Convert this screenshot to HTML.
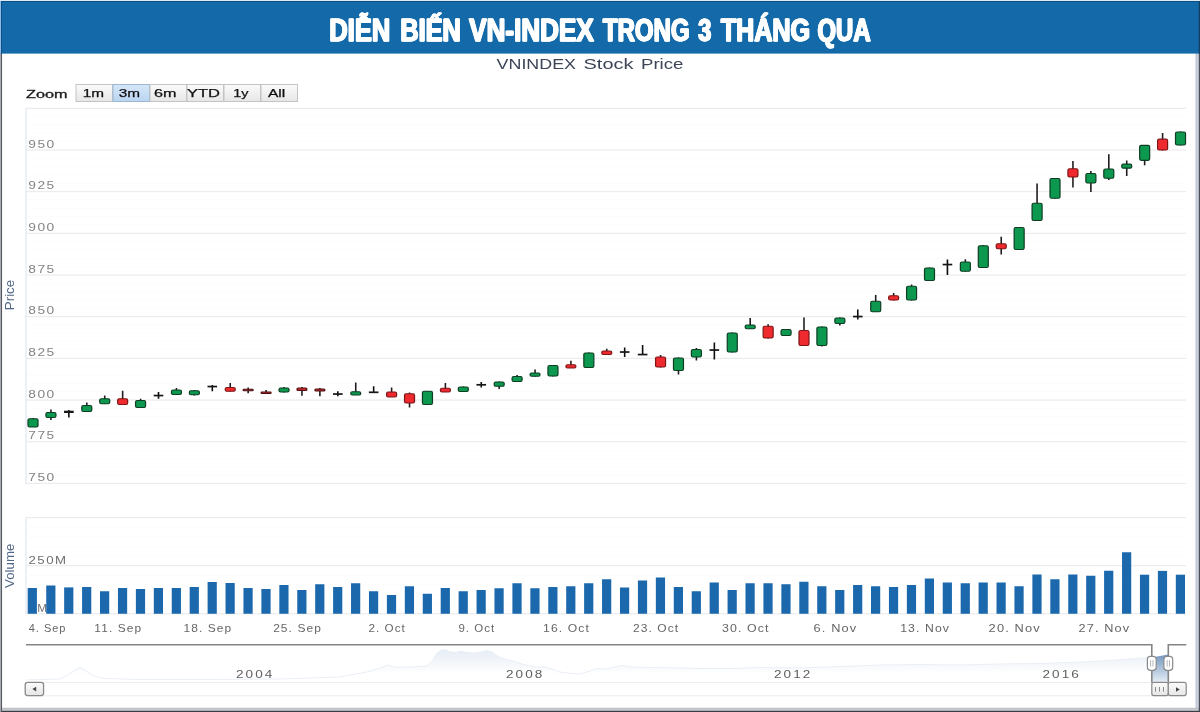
<!DOCTYPE html>
<html><head><meta charset="utf-8"><title>VN-Index</title>
<style>
html,body{margin:0;padding:0;background:#fff;}
body{width:1200px;height:712px;overflow:hidden;position:relative;font-family:"Liberation Sans",sans-serif;}
svg{position:absolute;left:0;top:0;display:block;}
text{font-family:"Liberation Sans",sans-serif;}
</style></head><body>
<svg width="1200" height="712" viewBox="0 0 1200 712">
<defs>
<linearGradient id="btn" x1="0" y1="0" x2="0" y2="1"><stop offset="0" stop-color="#fbfbfb"/><stop offset="1" stop-color="#e6e6e6"/></linearGradient>
<linearGradient id="btnsel" x1="0" y1="0" x2="0" y2="1"><stop offset="0" stop-color="#d6e7f8"/><stop offset="1" stop-color="#b9d5f1"/></linearGradient>
<linearGradient id="rb" x1="0" y1="0" x2="1" y2="0"><stop offset="0" stop-color="#b9c1d3"/><stop offset="1" stop-color="#d6dcea"/></linearGradient>
<linearGradient id="bb" x1="0" y1="0" x2="0" y2="1"><stop offset="0" stop-color="#b7bbc1"/><stop offset="1" stop-color="#d2d5da"/></linearGradient>
<linearGradient id="nav" x1="0" y1="0" x2="0" y2="1"><stop offset="0" stop-color="#e6edf5"/><stop offset="0.75" stop-color="#ffffff"/></linearGradient>
<filter id="soft" filterUnits="userSpaceOnUse" x="0" y="0" width="1200" height="712"><feGaussianBlur stdDeviation="0.6"/></filter>
<filter id="soft2" filterUnits="userSpaceOnUse" x="0" y="0" width="1200" height="60"><feGaussianBlur stdDeviation="0.3"/></filter>
<linearGradient id="navsel" x1="0" y1="0" x2="0" y2="1"><stop offset="0" stop-color="#5f88b5"/><stop offset="1" stop-color="#e4ecf5"/></linearGradient>
</defs>

<rect x="0" y="0" width="1200" height="712" fill="#ffffff"/>
<rect x="1195.5" y="53" width="3.2" height="657" fill="url(#rb)"/>
<rect x="2" y="707.8" width="1196.7" height="2.9" fill="url(#bb)"/>
<rect x="1198.7" y="0" width="1.3" height="712" fill="#4a4e58"/>
<rect x="0" y="710.7" width="1200" height="1.3" fill="#3a3d44"/>
<rect x="0" y="53" width="0.9" height="659" fill="#a8abb0"/>
<rect x="0.9" y="53" width="1.15" height="659" fill="#555a60"/>
<rect x="0" y="0" width="1200" height="53.6" fill="#146aa9"/>
<rect x="0" y="0" width="1200" height="1" fill="#dbe9f5"/>
<rect x="0" y="1" width="1200" height="1" fill="#0e4f84"/>
<rect x="0" y="1" width="1" height="52.6" fill="#8cbde6"/>
<rect x="1" y="1" width="1" height="52.6" fill="#0e4f84"/>
<rect x="1198.7" y="1" width="1.3" height="52.6" fill="#123f63"/>
<g filter="url(#soft2)">
<text x="328.94" y="40.75" font-size="30.6" font-weight="bold" fill="#ffffff" stroke="#ffffff" stroke-width="0.9" stroke-linejoin="round" textLength="60.83" lengthAdjust="spacingAndGlyphs">DIỄN</text>
<text x="329.34" y="40.75" font-size="30.6" font-weight="bold" fill="#ffffff" stroke="#ffffff" stroke-width="0.9" stroke-linejoin="round" textLength="60.83" lengthAdjust="spacingAndGlyphs">DIỄN</text>
<text x="329.74" y="40.75" font-size="30.6" font-weight="bold" fill="#ffffff" stroke="#ffffff" stroke-width="0.9" stroke-linejoin="round" textLength="60.83" lengthAdjust="spacingAndGlyphs">DIỄN</text>
<text x="399.95" y="40.75" font-size="30.6" font-weight="bold" fill="#ffffff" stroke="#ffffff" stroke-width="0.9" stroke-linejoin="round" textLength="60.46" lengthAdjust="spacingAndGlyphs">BIẾN</text>
<text x="400.35" y="40.75" font-size="30.6" font-weight="bold" fill="#ffffff" stroke="#ffffff" stroke-width="0.9" stroke-linejoin="round" textLength="60.46" lengthAdjust="spacingAndGlyphs">BIẾN</text>
<text x="400.75" y="40.75" font-size="30.6" font-weight="bold" fill="#ffffff" stroke="#ffffff" stroke-width="0.9" stroke-linejoin="round" textLength="60.46" lengthAdjust="spacingAndGlyphs">BIẾN</text>
<text x="468.74" y="40.75" font-size="30.6" font-weight="bold" fill="#ffffff" stroke="#ffffff" stroke-width="0.9" stroke-linejoin="round" textLength="124.62" lengthAdjust="spacingAndGlyphs">VN-INDEX</text>
<text x="469.14" y="40.75" font-size="30.6" font-weight="bold" fill="#ffffff" stroke="#ffffff" stroke-width="0.9" stroke-linejoin="round" textLength="124.62" lengthAdjust="spacingAndGlyphs">VN-INDEX</text>
<text x="469.54" y="40.75" font-size="30.6" font-weight="bold" fill="#ffffff" stroke="#ffffff" stroke-width="0.9" stroke-linejoin="round" textLength="124.62" lengthAdjust="spacingAndGlyphs">VN-INDEX</text>
<text x="602.55" y="40.75" font-size="30.6" font-weight="bold" fill="#ffffff" stroke="#ffffff" stroke-width="0.9" stroke-linejoin="round" textLength="86.62" lengthAdjust="spacingAndGlyphs">TRONG</text>
<text x="602.95" y="40.75" font-size="30.6" font-weight="bold" fill="#ffffff" stroke="#ffffff" stroke-width="0.9" stroke-linejoin="round" textLength="86.62" lengthAdjust="spacingAndGlyphs">TRONG</text>
<text x="603.35" y="40.75" font-size="30.6" font-weight="bold" fill="#ffffff" stroke="#ffffff" stroke-width="0.9" stroke-linejoin="round" textLength="86.62" lengthAdjust="spacingAndGlyphs">TRONG</text>
<text x="697.85" y="40.75" font-size="30.6" font-weight="bold" fill="#ffffff" stroke="#ffffff" stroke-width="0.9" stroke-linejoin="round" textLength="13.01" lengthAdjust="spacingAndGlyphs">3</text>
<text x="698.25" y="40.75" font-size="30.6" font-weight="bold" fill="#ffffff" stroke="#ffffff" stroke-width="0.9" stroke-linejoin="round" textLength="13.01" lengthAdjust="spacingAndGlyphs">3</text>
<text x="698.65" y="40.75" font-size="30.6" font-weight="bold" fill="#ffffff" stroke="#ffffff" stroke-width="0.9" stroke-linejoin="round" textLength="13.01" lengthAdjust="spacingAndGlyphs">3</text>
<text x="720.50" y="40.75" font-size="30.6" font-weight="bold" fill="#ffffff" stroke="#ffffff" stroke-width="0.9" stroke-linejoin="round" textLength="89.08" lengthAdjust="spacingAndGlyphs">THÁNG</text>
<text x="720.90" y="40.75" font-size="30.6" font-weight="bold" fill="#ffffff" stroke="#ffffff" stroke-width="0.9" stroke-linejoin="round" textLength="89.08" lengthAdjust="spacingAndGlyphs">THÁNG</text>
<text x="721.30" y="40.75" font-size="30.6" font-weight="bold" fill="#ffffff" stroke="#ffffff" stroke-width="0.9" stroke-linejoin="round" textLength="89.08" lengthAdjust="spacingAndGlyphs">THÁNG</text>
<text x="816.90" y="40.75" font-size="30.6" font-weight="bold" fill="#ffffff" stroke="#ffffff" stroke-width="0.9" stroke-linejoin="round" textLength="53.35" lengthAdjust="spacingAndGlyphs">QUA</text>
<text x="817.30" y="40.75" font-size="30.6" font-weight="bold" fill="#ffffff" stroke="#ffffff" stroke-width="0.9" stroke-linejoin="round" textLength="53.35" lengthAdjust="spacingAndGlyphs">QUA</text>
<text x="817.70" y="40.75" font-size="30.6" font-weight="bold" fill="#ffffff" stroke="#ffffff" stroke-width="0.9" stroke-linejoin="round" textLength="53.35" lengthAdjust="spacingAndGlyphs">QUA</text>
</g>
<g filter="url(#soft)">
<text x="496.6" y="69.3" font-size="14.6" fill="#3b4457" textLength="79.4" lengthAdjust="spacingAndGlyphs">VNINDEX</text>
<text x="583.6" y="69.3" font-size="14.6" fill="#3b4457" textLength="49.8" lengthAdjust="spacingAndGlyphs">Stock</text>
<text x="641" y="69.3" font-size="14.6" fill="#3b4457" textLength="42.4" lengthAdjust="spacingAndGlyphs">Price</text>
<text x="26" y="98" font-size="11.6" fill="#1a1a1a" stroke="#1a1a1a" stroke-width="0.3" textLength="41.5" lengthAdjust="spacingAndGlyphs">Zoom</text>
<rect x="76.0" y="84.5" width="36.5" height="17" fill="url(#btn)" stroke="#c4c4c4" stroke-width="1"/>
<text x="82.70" y="96.7" font-size="11.4" fill="#111111" stroke="#111111" stroke-width="0.25" textLength="21.3" lengthAdjust="spacingAndGlyphs">1m</text>
<rect x="113.0" y="84.5" width="36.5" height="17" fill="url(#btnsel)" stroke="#9db7d3" stroke-width="1"/>
<text x="118.70" y="96.7" font-size="11.4" fill="#111111" stroke="#111111" stroke-width="0.25" textLength="21.3" lengthAdjust="spacingAndGlyphs">3m</text>
<rect x="150.0" y="84.5" width="36.5" height="17" fill="url(#btn)" stroke="#c4c4c4" stroke-width="1"/>
<text x="154.00" y="96.7" font-size="11.4" fill="#111111" stroke="#111111" stroke-width="0.25" textLength="22.5" lengthAdjust="spacingAndGlyphs">6m</text>
<rect x="187.0" y="84.5" width="36.5" height="17" fill="url(#btn)" stroke="#c4c4c4" stroke-width="1"/>
<text x="187.00" y="96.7" font-size="11.4" fill="#111111" stroke="#111111" stroke-width="0.25" textLength="33" lengthAdjust="spacingAndGlyphs">YTD</text>
<rect x="224.0" y="84.5" width="36.5" height="17" fill="url(#btn)" stroke="#c4c4c4" stroke-width="1"/>
<text x="233.30" y="96.7" font-size="11.4" fill="#111111" stroke="#111111" stroke-width="0.25" textLength="15.2" lengthAdjust="spacingAndGlyphs">1y</text>
<rect x="261.0" y="84.5" width="36.5" height="17" fill="url(#btn)" stroke="#c4c4c4" stroke-width="1"/>
<text x="268.00" y="96.7" font-size="11.4" fill="#111111" stroke="#111111" stroke-width="0.25" textLength="17.3" lengthAdjust="spacingAndGlyphs">All</text>
<g>
<rect x="26" y="482.85" width="1160" height="1.1" fill="#eaeaea"/>
<rect x="26" y="474.51" width="1160" height="1" fill="#fcfcfc"/>
<rect x="26" y="466.18" width="1160" height="1" fill="#fcfcfc"/>
<rect x="26" y="457.85" width="1160" height="1" fill="#fcfcfc"/>
<rect x="26" y="449.51" width="1160" height="1" fill="#fcfcfc"/>
<rect x="26" y="441.18" width="1160" height="1.1" fill="#eaeaea"/>
<rect x="26" y="432.84" width="1160" height="1" fill="#fcfcfc"/>
<rect x="26" y="424.50" width="1160" height="1" fill="#fcfcfc"/>
<rect x="26" y="416.17" width="1160" height="1" fill="#fcfcfc"/>
<rect x="26" y="407.83" width="1160" height="1" fill="#fcfcfc"/>
<rect x="26" y="399.50" width="1160" height="1.1" fill="#eaeaea"/>
<rect x="26" y="391.17" width="1160" height="1" fill="#fcfcfc"/>
<rect x="26" y="382.83" width="1160" height="1" fill="#fcfcfc"/>
<rect x="26" y="374.50" width="1160" height="1" fill="#fcfcfc"/>
<rect x="26" y="366.16" width="1160" height="1" fill="#fcfcfc"/>
<rect x="26" y="357.82" width="1160" height="1.1" fill="#eaeaea"/>
<rect x="26" y="349.49" width="1160" height="1" fill="#fcfcfc"/>
<rect x="26" y="341.15" width="1160" height="1" fill="#fcfcfc"/>
<rect x="26" y="332.82" width="1160" height="1" fill="#fcfcfc"/>
<rect x="26" y="324.49" width="1160" height="1" fill="#fcfcfc"/>
<rect x="26" y="316.15" width="1160" height="1.1" fill="#eaeaea"/>
<rect x="26" y="307.81" width="1160" height="1" fill="#fcfcfc"/>
<rect x="26" y="299.48" width="1160" height="1" fill="#fcfcfc"/>
<rect x="26" y="291.14" width="1160" height="1" fill="#fcfcfc"/>
<rect x="26" y="282.81" width="1160" height="1" fill="#fcfcfc"/>
<rect x="26" y="274.48" width="1160" height="1.1" fill="#eaeaea"/>
<rect x="26" y="266.14" width="1160" height="1" fill="#fcfcfc"/>
<rect x="26" y="257.81" width="1160" height="1" fill="#fcfcfc"/>
<rect x="26" y="249.47" width="1160" height="1" fill="#fcfcfc"/>
<rect x="26" y="241.13" width="1160" height="1" fill="#fcfcfc"/>
<rect x="26" y="232.80" width="1160" height="1.1" fill="#eaeaea"/>
<rect x="26" y="224.47" width="1160" height="1" fill="#fcfcfc"/>
<rect x="26" y="216.13" width="1160" height="1" fill="#fcfcfc"/>
<rect x="26" y="207.79" width="1160" height="1" fill="#fcfcfc"/>
<rect x="26" y="199.46" width="1160" height="1" fill="#fcfcfc"/>
<rect x="26" y="191.12" width="1160" height="1.1" fill="#eaeaea"/>
<rect x="26" y="182.79" width="1160" height="1" fill="#fcfcfc"/>
<rect x="26" y="174.45" width="1160" height="1" fill="#fcfcfc"/>
<rect x="26" y="166.12" width="1160" height="1" fill="#fcfcfc"/>
<rect x="26" y="157.78" width="1160" height="1" fill="#fcfcfc"/>
<rect x="26" y="149.45" width="1160" height="1.1" fill="#eaeaea"/>
<rect x="26" y="141.12" width="1160" height="1" fill="#fcfcfc"/>
<rect x="26" y="132.78" width="1160" height="1" fill="#fcfcfc"/>
<rect x="26" y="124.44" width="1160" height="1" fill="#fcfcfc"/>
<rect x="26" y="116.11" width="1160" height="1" fill="#fcfcfc"/>
<rect x="26" y="107.77" width="1160" height="1.1" fill="#eaeaea"/>
</g>
<rect x="25.5" y="108" width="1.2" height="376" fill="#dfe8f2"/>
<rect x="25.5" y="517" width="1.2" height="97" fill="#dfe8f2"/>
<text x="28.2" y="147.75" font-size="11.5" letter-spacing="1.3" fill="#848484" textLength="27.6" lengthAdjust="spacingAndGlyphs">950</text>
<text x="28.2" y="189.43" font-size="11.5" letter-spacing="1.3" fill="#848484" textLength="27.6" lengthAdjust="spacingAndGlyphs">925</text>
<text x="28.2" y="231.10" font-size="11.5" letter-spacing="1.3" fill="#848484" textLength="27.6" lengthAdjust="spacingAndGlyphs">900</text>
<text x="28.2" y="272.78" font-size="11.5" letter-spacing="1.3" fill="#848484" textLength="27.6" lengthAdjust="spacingAndGlyphs">875</text>
<text x="28.2" y="314.45" font-size="11.5" letter-spacing="1.3" fill="#848484" textLength="27.6" lengthAdjust="spacingAndGlyphs">850</text>
<text x="28.2" y="356.12" font-size="11.5" letter-spacing="1.3" fill="#848484" textLength="27.6" lengthAdjust="spacingAndGlyphs">825</text>
<text x="28.2" y="397.80" font-size="11.5" letter-spacing="1.3" fill="#848484" textLength="27.6" lengthAdjust="spacingAndGlyphs">800</text>
<text x="28.2" y="439.48" font-size="11.5" letter-spacing="1.3" fill="#848484" textLength="27.6" lengthAdjust="spacingAndGlyphs">775</text>
<text x="28.2" y="481.15" font-size="11.5" letter-spacing="1.3" fill="#848484" textLength="27.6" lengthAdjust="spacingAndGlyphs">750</text>
<text transform="translate(14.2,310.2) rotate(-90)" font-size="13.2" fill="#4f6687" textLength="30.4" lengthAdjust="spacingAndGlyphs">Price</text>
<text transform="translate(14.1,588) rotate(-90)" font-size="13.4" fill="#4f6687" textLength="44.4" lengthAdjust="spacingAndGlyphs">Volume</text>
<g>
<rect x="26" y="613.25" width="1160" height="1.1" fill="#eaeaea"/>
<rect x="26" y="603.63" width="1160" height="1" fill="#fcfcfc"/>
<rect x="26" y="594.01" width="1160" height="1" fill="#fcfcfc"/>
<rect x="26" y="584.39" width="1160" height="1" fill="#fcfcfc"/>
<rect x="26" y="574.77" width="1160" height="1" fill="#fcfcfc"/>
<rect x="26" y="565.15" width="1160" height="1.1" fill="#eaeaea"/>
<rect x="26" y="555.53" width="1160" height="1" fill="#fcfcfc"/>
<rect x="26" y="545.91" width="1160" height="1" fill="#fcfcfc"/>
<rect x="26" y="536.29" width="1160" height="1" fill="#fcfcfc"/>
<rect x="26" y="526.67" width="1160" height="1" fill="#fcfcfc"/>
<rect x="26" y="517.05" width="1160" height="1.1" fill="#eaeaea"/>
</g>
<text x="28.5" y="563.8" font-size="10.8" letter-spacing="1.2" fill="#707070" textLength="39" lengthAdjust="spacingAndGlyphs">250M</text>
<text x="29.3" y="611.8" font-size="10.8" letter-spacing="1.2" fill="#707070" textLength="19" lengthAdjust="spacingAndGlyphs">0M</text>
<rect x="27.70" y="588.00" width="9.2" height="25.75" fill="#1a68ad"/>
<rect x="46.23" y="585.50" width="9.2" height="28.25" fill="#1a68ad"/>
<rect x="64.16" y="587.40" width="9.2" height="26.35" fill="#1a68ad"/>
<rect x="82.09" y="587.00" width="9.2" height="26.75" fill="#1a68ad"/>
<rect x="100.02" y="591.25" width="9.2" height="22.50" fill="#1a68ad"/>
<rect x="117.95" y="588.00" width="9.2" height="25.75" fill="#1a68ad"/>
<rect x="135.88" y="589.00" width="9.2" height="24.75" fill="#1a68ad"/>
<rect x="153.81" y="588.00" width="9.2" height="25.75" fill="#1a68ad"/>
<rect x="171.74" y="588.00" width="9.2" height="25.75" fill="#1a68ad"/>
<rect x="189.67" y="587.00" width="9.2" height="26.75" fill="#1a68ad"/>
<rect x="207.60" y="582.00" width="9.2" height="31.75" fill="#1a68ad"/>
<rect x="225.53" y="583.00" width="9.2" height="30.75" fill="#1a68ad"/>
<rect x="243.46" y="588.00" width="9.2" height="25.75" fill="#1a68ad"/>
<rect x="261.39" y="589.00" width="9.2" height="24.75" fill="#1a68ad"/>
<rect x="279.32" y="585.00" width="9.2" height="28.75" fill="#1a68ad"/>
<rect x="297.25" y="590.00" width="9.2" height="23.75" fill="#1a68ad"/>
<rect x="315.18" y="584.25" width="9.2" height="29.50" fill="#1a68ad"/>
<rect x="333.11" y="587.00" width="9.2" height="26.75" fill="#1a68ad"/>
<rect x="351.04" y="583.25" width="9.2" height="30.50" fill="#1a68ad"/>
<rect x="368.97" y="591.25" width="9.2" height="22.50" fill="#1a68ad"/>
<rect x="386.90" y="595.00" width="9.2" height="18.75" fill="#1a68ad"/>
<rect x="404.83" y="586.25" width="9.2" height="27.50" fill="#1a68ad"/>
<rect x="422.76" y="593.75" width="9.2" height="20.00" fill="#1a68ad"/>
<rect x="440.69" y="588.00" width="9.2" height="25.75" fill="#1a68ad"/>
<rect x="458.62" y="591.25" width="9.2" height="22.50" fill="#1a68ad"/>
<rect x="476.55" y="590.00" width="9.2" height="23.75" fill="#1a68ad"/>
<rect x="494.48" y="588.25" width="9.2" height="25.50" fill="#1a68ad"/>
<rect x="512.41" y="583.25" width="9.2" height="30.50" fill="#1a68ad"/>
<rect x="530.34" y="588.25" width="9.2" height="25.50" fill="#1a68ad"/>
<rect x="548.27" y="587.00" width="9.2" height="26.75" fill="#1a68ad"/>
<rect x="566.20" y="586.25" width="9.2" height="27.50" fill="#1a68ad"/>
<rect x="584.13" y="583.25" width="9.2" height="30.50" fill="#1a68ad"/>
<rect x="602.06" y="579.25" width="9.2" height="34.50" fill="#1a68ad"/>
<rect x="619.99" y="587.50" width="9.2" height="26.25" fill="#1a68ad"/>
<rect x="637.92" y="580.50" width="9.2" height="33.25" fill="#1a68ad"/>
<rect x="655.85" y="577.50" width="9.2" height="36.25" fill="#1a68ad"/>
<rect x="673.78" y="587.00" width="9.2" height="26.75" fill="#1a68ad"/>
<rect x="691.71" y="591.25" width="9.2" height="22.50" fill="#1a68ad"/>
<rect x="709.64" y="582.50" width="9.2" height="31.25" fill="#1a68ad"/>
<rect x="727.57" y="590.00" width="9.2" height="23.75" fill="#1a68ad"/>
<rect x="745.50" y="583.25" width="9.2" height="30.50" fill="#1a68ad"/>
<rect x="763.43" y="583.25" width="9.2" height="30.50" fill="#1a68ad"/>
<rect x="781.36" y="584.25" width="9.2" height="29.50" fill="#1a68ad"/>
<rect x="799.29" y="581.75" width="9.2" height="32.00" fill="#1a68ad"/>
<rect x="817.22" y="586.25" width="9.2" height="27.50" fill="#1a68ad"/>
<rect x="835.15" y="590.00" width="9.2" height="23.75" fill="#1a68ad"/>
<rect x="853.08" y="585.00" width="9.2" height="28.75" fill="#1a68ad"/>
<rect x="871.01" y="586.25" width="9.2" height="27.50" fill="#1a68ad"/>
<rect x="888.94" y="587.00" width="9.2" height="26.75" fill="#1a68ad"/>
<rect x="906.87" y="585.00" width="9.2" height="28.75" fill="#1a68ad"/>
<rect x="924.80" y="578.50" width="9.2" height="35.25" fill="#1a68ad"/>
<rect x="942.73" y="582.50" width="9.2" height="31.25" fill="#1a68ad"/>
<rect x="960.66" y="583.25" width="9.2" height="30.50" fill="#1a68ad"/>
<rect x="978.59" y="582.50" width="9.2" height="31.25" fill="#1a68ad"/>
<rect x="996.52" y="582.50" width="9.2" height="31.25" fill="#1a68ad"/>
<rect x="1014.45" y="586.25" width="9.2" height="27.50" fill="#1a68ad"/>
<rect x="1032.38" y="574.50" width="9.2" height="39.25" fill="#1a68ad"/>
<rect x="1050.31" y="579.25" width="9.2" height="34.50" fill="#1a68ad"/>
<rect x="1068.24" y="574.50" width="9.2" height="39.25" fill="#1a68ad"/>
<rect x="1086.17" y="575.75" width="9.2" height="38.00" fill="#1a68ad"/>
<rect x="1104.10" y="570.75" width="9.2" height="43.00" fill="#1a68ad"/>
<rect x="1122.03" y="552.25" width="9.2" height="61.50" fill="#1a68ad"/>
<rect x="1139.96" y="574.70" width="9.2" height="39.05" fill="#1a68ad"/>
<rect x="1157.89" y="570.90" width="9.2" height="42.85" fill="#1a68ad"/>
<rect x="1175.82" y="574.70" width="9.2" height="39.05" fill="#1a68ad"/>
<text x="28.70" y="632.2" font-size="11.2" letter-spacing="1" fill="#666666" textLength="37.8" lengthAdjust="spacingAndGlyphs">4. Sep</text>
<text x="94.35" y="632.2" font-size="11.2" letter-spacing="1" fill="#666666" textLength="47.8" lengthAdjust="spacingAndGlyphs">11. Sep</text>
<text x="183.50" y="632.2" font-size="11.2" letter-spacing="1" fill="#666666" textLength="48.8" lengthAdjust="spacingAndGlyphs">18. Sep</text>
<text x="273.15" y="632.2" font-size="11.2" letter-spacing="1" fill="#666666" textLength="48.8" lengthAdjust="spacingAndGlyphs">25. Sep</text>
<text x="368.55" y="632.2" font-size="11.2" letter-spacing="1" fill="#666666" textLength="37.3" lengthAdjust="spacingAndGlyphs">2. Oct</text>
<text x="458.45" y="632.2" font-size="11.2" letter-spacing="1" fill="#666666" textLength="36.8" lengthAdjust="spacingAndGlyphs">9. Oct</text>
<text x="543.10" y="632.2" font-size="11.2" letter-spacing="1" fill="#666666" textLength="46.8" lengthAdjust="spacingAndGlyphs">16. Oct</text>
<text x="633.00" y="632.2" font-size="11.2" letter-spacing="1" fill="#666666" textLength="46.3" lengthAdjust="spacingAndGlyphs">23. Oct</text>
<text x="721.90" y="632.2" font-size="11.2" letter-spacing="1" fill="#666666" textLength="47.8" lengthAdjust="spacingAndGlyphs">30. Oct</text>
<text x="813.55" y="632.2" font-size="11.2" letter-spacing="1" fill="#666666" textLength="43.8" lengthAdjust="spacingAndGlyphs">6. Nov</text>
<text x="900.20" y="632.2" font-size="11.2" letter-spacing="1" fill="#666666" textLength="49.8" lengthAdjust="spacingAndGlyphs">13. Nov</text>
<text x="988.60" y="632.2" font-size="11.2" letter-spacing="1" fill="#666666" textLength="52.3" lengthAdjust="spacingAndGlyphs">20. Nov</text>
<text x="1078.50" y="632.2" font-size="11.2" letter-spacing="1" fill="#666666" textLength="51.8" lengthAdjust="spacingAndGlyphs">27. Nov</text>
<rect x="32.20" y="418.00" width="1.6" height="9.00" fill="#231f20"/>
<rect x="28.00" y="418.75" width="10.0" height="8.25" rx="1.50" fill="#10984f" stroke="#0a3d22" stroke-width="1.2"/>
<rect x="50.13" y="409.50" width="1.6" height="10.50" fill="#231f20"/>
<rect x="45.93" y="412.50" width="10.0" height="5.00" rx="1.50" fill="#10984f" stroke="#0a3d22" stroke-width="1.2"/>
<rect x="68.06" y="410.00" width="1.6" height="7.50" fill="#111111"/>
<rect x="64.06" y="410.70" width="9.6" height="2.30" fill="#151515"/>
<rect x="85.99" y="402.50" width="1.6" height="9.50" fill="#231f20"/>
<rect x="81.79" y="405.50" width="10.0" height="6.00" rx="1.50" fill="#10984f" stroke="#0a3d22" stroke-width="1.2"/>
<rect x="103.92" y="395.50" width="1.6" height="8.50" fill="#231f20"/>
<rect x="99.72" y="398.75" width="10.0" height="5.00" rx="1.50" fill="#10984f" stroke="#0a3d22" stroke-width="1.2"/>
<rect x="121.85" y="390.75" width="1.6" height="13.75" fill="#231f20"/>
<rect x="117.65" y="398.75" width="10.0" height="5.75" rx="1.50" fill="#ee2b2f" stroke="#7d1517" stroke-width="1.2"/>
<rect x="139.78" y="398.75" width="1.6" height="9.25" fill="#231f20"/>
<rect x="135.58" y="400.50" width="10.0" height="7.00" rx="1.50" fill="#10984f" stroke="#0a3d22" stroke-width="1.2"/>
<rect x="157.71" y="392.00" width="1.6" height="6.75" fill="#111111"/>
<rect x="153.71" y="394.70" width="9.6" height="1.70" fill="#151515"/>
<rect x="175.64" y="388.00" width="1.6" height="7.00" fill="#231f20"/>
<rect x="171.44" y="390.00" width="10.0" height="4.50" rx="1.50" fill="#10984f" stroke="#0a3d22" stroke-width="1.2"/>
<rect x="193.57" y="390.00" width="1.6" height="5.50" fill="#231f20"/>
<rect x="189.37" y="390.75" width="10.0" height="4.00" rx="1.50" fill="#10984f" stroke="#0a3d22" stroke-width="1.2"/>
<rect x="211.50" y="385.00" width="1.6" height="6.25" fill="#111111"/>
<rect x="207.50" y="385.70" width="9.6" height="1.70" fill="#151515"/>
<rect x="229.43" y="383.00" width="1.6" height="8.50" fill="#231f20"/>
<rect x="225.23" y="387.50" width="10.0" height="3.75" rx="1.50" fill="#ee2b2f" stroke="#7d1517" stroke-width="1.2"/>
<rect x="247.36" y="387.50" width="1.6" height="5.75" fill="#231f20"/>
<rect x="243.16" y="389.25" width="10.0" height="1.50" rx="0.75" fill="#c4272b" stroke="#4e1012" stroke-width="1.2"/>
<rect x="265.29" y="390.00" width="1.6" height="4.00" fill="#231f20"/>
<rect x="261.09" y="392.00" width="10.0" height="1.50" rx="0.75" fill="#c4272b" stroke="#4e1012" stroke-width="1.2"/>
<rect x="283.22" y="387.00" width="1.6" height="5.50" fill="#231f20"/>
<rect x="279.02" y="388.00" width="10.0" height="4.00" rx="1.50" fill="#10984f" stroke="#0a3d22" stroke-width="1.2"/>
<rect x="301.15" y="387.00" width="1.6" height="8.75" fill="#231f20"/>
<rect x="296.95" y="388.00" width="10.0" height="2.50" rx="1.25" fill="#c4272b" stroke="#4e1012" stroke-width="1.2"/>
<rect x="319.08" y="388.00" width="1.6" height="8.25" fill="#231f20"/>
<rect x="314.88" y="389.00" width="10.0" height="2.00" rx="1.00" fill="#c4272b" stroke="#4e1012" stroke-width="1.2"/>
<rect x="337.01" y="391.25" width="1.6" height="5.00" fill="#111111"/>
<rect x="333.01" y="393.20" width="9.6" height="1.70" fill="#151515"/>
<rect x="354.94" y="382.50" width="1.6" height="12.50" fill="#231f20"/>
<rect x="350.74" y="391.75" width="10.0" height="3.25" rx="1.50" fill="#10984f" stroke="#0a3d22" stroke-width="1.2"/>
<rect x="372.87" y="386.25" width="1.6" height="6.75" fill="#111111"/>
<rect x="368.87" y="391.45" width="9.6" height="1.70" fill="#151515"/>
<rect x="390.80" y="387.50" width="1.6" height="9.50" fill="#231f20"/>
<rect x="386.60" y="392.00" width="10.0" height="5.00" rx="1.50" fill="#ee2b2f" stroke="#7d1517" stroke-width="1.2"/>
<rect x="408.73" y="392.50" width="1.6" height="15.00" fill="#231f20"/>
<rect x="404.53" y="393.75" width="10.0" height="9.25" rx="1.50" fill="#ee2b2f" stroke="#7d1517" stroke-width="1.2"/>
<rect x="426.66" y="391.00" width="1.6" height="14.00" fill="#231f20"/>
<rect x="422.46" y="391.25" width="10.0" height="13.25" rx="1.50" fill="#10984f" stroke="#0a3d22" stroke-width="1.2"/>
<rect x="444.59" y="383.00" width="1.6" height="9.00" fill="#231f20"/>
<rect x="440.39" y="388.25" width="10.0" height="3.75" rx="1.50" fill="#ee2b2f" stroke="#7d1517" stroke-width="1.2"/>
<rect x="462.52" y="386.50" width="1.6" height="5.50" fill="#231f20"/>
<rect x="458.32" y="387.00" width="10.0" height="4.50" rx="1.50" fill="#10984f" stroke="#0a3d22" stroke-width="1.2"/>
<rect x="480.45" y="382.00" width="1.6" height="5.50" fill="#111111"/>
<rect x="476.45" y="383.95" width="9.6" height="1.70" fill="#151515"/>
<rect x="498.38" y="381.50" width="1.6" height="7.50" fill="#231f20"/>
<rect x="494.18" y="382.00" width="10.0" height="4.25" rx="1.50" fill="#10984f" stroke="#0a3d22" stroke-width="1.2"/>
<rect x="516.31" y="375.00" width="1.6" height="7.00" fill="#231f20"/>
<rect x="512.11" y="376.50" width="10.0" height="5.00" rx="1.50" fill="#10984f" stroke="#0a3d22" stroke-width="1.2"/>
<rect x="534.24" y="369.50" width="1.6" height="7.00" fill="#231f20"/>
<rect x="530.04" y="373.00" width="10.0" height="3.25" rx="1.50" fill="#10984f" stroke="#0a3d22" stroke-width="1.2"/>
<rect x="552.17" y="365.00" width="1.6" height="11.50" fill="#231f20"/>
<rect x="547.97" y="365.50" width="10.0" height="10.50" rx="1.50" fill="#10984f" stroke="#0a3d22" stroke-width="1.2"/>
<rect x="570.10" y="360.75" width="1.6" height="7.25" fill="#231f20"/>
<rect x="565.90" y="364.75" width="10.0" height="3.25" rx="1.50" fill="#ee2b2f" stroke="#7d1517" stroke-width="1.2"/>
<rect x="588.03" y="352.50" width="1.6" height="15.50" fill="#231f20"/>
<rect x="583.83" y="353.00" width="10.0" height="14.50" rx="1.50" fill="#10984f" stroke="#0a3d22" stroke-width="1.2"/>
<rect x="605.96" y="348.75" width="1.6" height="6.25" fill="#231f20"/>
<rect x="601.76" y="351.00" width="10.0" height="3.50" rx="1.50" fill="#ee2b2f" stroke="#7d1517" stroke-width="1.2"/>
<rect x="623.89" y="347.50" width="1.6" height="9.50" fill="#111111"/>
<rect x="619.89" y="351.20" width="9.6" height="1.70" fill="#151515"/>
<rect x="641.82" y="345.00" width="1.6" height="10.00" fill="#111111"/>
<rect x="637.82" y="353.70" width="9.6" height="1.70" fill="#151515"/>
<rect x="659.75" y="355.00" width="1.6" height="12.50" fill="#231f20"/>
<rect x="655.55" y="357.00" width="10.0" height="10.00" rx="1.50" fill="#ee2b2f" stroke="#7d1517" stroke-width="1.2"/>
<rect x="677.68" y="357.50" width="1.6" height="17.00" fill="#231f20"/>
<rect x="673.48" y="358.00" width="10.0" height="12.50" rx="1.50" fill="#10984f" stroke="#0a3d22" stroke-width="1.2"/>
<rect x="695.61" y="348.00" width="1.6" height="12.50" fill="#231f20"/>
<rect x="691.41" y="349.50" width="10.0" height="7.50" rx="1.50" fill="#10984f" stroke="#0a3d22" stroke-width="1.2"/>
<rect x="713.54" y="342.50" width="1.6" height="17.00" fill="#111111"/>
<rect x="709.54" y="349.20" width="9.6" height="1.70" fill="#151515"/>
<rect x="731.47" y="332.50" width="1.6" height="20.00" fill="#231f20"/>
<rect x="727.27" y="333.00" width="10.0" height="19.00" rx="1.50" fill="#10984f" stroke="#0a3d22" stroke-width="1.2"/>
<rect x="749.40" y="318.00" width="1.6" height="11.00" fill="#231f20"/>
<rect x="745.20" y="325.00" width="10.0" height="3.75" rx="1.50" fill="#10984f" stroke="#0a3d22" stroke-width="1.2"/>
<rect x="767.33" y="324.25" width="1.6" height="14.25" fill="#231f20"/>
<rect x="763.13" y="326.25" width="10.0" height="11.75" rx="1.50" fill="#ee2b2f" stroke="#7d1517" stroke-width="1.2"/>
<rect x="785.26" y="329.00" width="1.6" height="7.00" fill="#231f20"/>
<rect x="781.06" y="329.50" width="10.0" height="6.00" rx="1.50" fill="#10984f" stroke="#0a3d22" stroke-width="1.2"/>
<rect x="803.19" y="317.50" width="1.6" height="28.50" fill="#231f20"/>
<rect x="798.99" y="330.50" width="10.0" height="15.00" rx="1.50" fill="#ee2b2f" stroke="#7d1517" stroke-width="1.2"/>
<rect x="821.12" y="326.50" width="1.6" height="20.00" fill="#231f20"/>
<rect x="816.92" y="327.00" width="10.0" height="18.50" rx="1.50" fill="#10984f" stroke="#0a3d22" stroke-width="1.2"/>
<rect x="839.05" y="317.50" width="1.6" height="8.00" fill="#231f20"/>
<rect x="834.85" y="318.00" width="10.0" height="5.50" rx="1.50" fill="#10984f" stroke="#0a3d22" stroke-width="1.2"/>
<rect x="856.98" y="309.50" width="1.6" height="10.00" fill="#111111"/>
<rect x="852.98" y="315.70" width="9.6" height="1.70" fill="#151515"/>
<rect x="874.91" y="295.00" width="1.6" height="17.00" fill="#231f20"/>
<rect x="870.71" y="301.25" width="10.0" height="10.50" rx="1.50" fill="#10984f" stroke="#0a3d22" stroke-width="1.2"/>
<rect x="892.84" y="293.00" width="1.6" height="7.50" fill="#231f20"/>
<rect x="888.64" y="295.75" width="10.0" height="4.25" rx="1.50" fill="#ee2b2f" stroke="#7d1517" stroke-width="1.2"/>
<rect x="910.77" y="284.50" width="1.6" height="16.00" fill="#231f20"/>
<rect x="906.57" y="286.25" width="10.0" height="13.75" rx="1.50" fill="#10984f" stroke="#0a3d22" stroke-width="1.2"/>
<rect x="928.70" y="267.50" width="1.6" height="13.50" fill="#231f20"/>
<rect x="924.50" y="268.00" width="10.0" height="12.50" rx="1.50" fill="#10984f" stroke="#0a3d22" stroke-width="1.2"/>
<rect x="946.63" y="259.50" width="1.6" height="15.50" fill="#111111"/>
<rect x="942.63" y="263.70" width="9.6" height="1.70" fill="#151515"/>
<rect x="964.56" y="259.25" width="1.6" height="12.25" fill="#231f20"/>
<rect x="960.36" y="262.00" width="10.0" height="9.25" rx="1.50" fill="#10984f" stroke="#0a3d22" stroke-width="1.2"/>
<rect x="982.49" y="245.00" width="1.6" height="23.00" fill="#231f20"/>
<rect x="978.29" y="245.75" width="10.0" height="21.75" rx="1.50" fill="#10984f" stroke="#0a3d22" stroke-width="1.2"/>
<rect x="1000.42" y="236.75" width="1.6" height="17.75" fill="#231f20"/>
<rect x="996.22" y="243.75" width="10.0" height="5.00" rx="1.50" fill="#ee2b2f" stroke="#7d1517" stroke-width="1.2"/>
<rect x="1018.35" y="227.00" width="1.6" height="23.00" fill="#231f20"/>
<rect x="1014.15" y="227.50" width="10.0" height="22.00" rx="1.50" fill="#10984f" stroke="#0a3d22" stroke-width="1.2"/>
<rect x="1036.28" y="183.50" width="1.6" height="37.50" fill="#231f20"/>
<rect x="1032.08" y="203.25" width="10.0" height="17.25" rx="1.50" fill="#10984f" stroke="#0a3d22" stroke-width="1.2"/>
<rect x="1054.21" y="178.00" width="1.6" height="20.50" fill="#231f20"/>
<rect x="1050.01" y="178.50" width="10.0" height="19.75" rx="1.50" fill="#10984f" stroke="#0a3d22" stroke-width="1.2"/>
<rect x="1072.14" y="161.00" width="1.6" height="26.50" fill="#231f20"/>
<rect x="1067.94" y="168.75" width="10.0" height="8.25" rx="1.50" fill="#ee2b2f" stroke="#7d1517" stroke-width="1.2"/>
<rect x="1090.07" y="171.00" width="1.6" height="21.00" fill="#231f20"/>
<rect x="1085.87" y="173.50" width="10.0" height="9.50" rx="1.50" fill="#10984f" stroke="#0a3d22" stroke-width="1.2"/>
<rect x="1108.00" y="154.20" width="1.6" height="25.80" fill="#231f20"/>
<rect x="1103.80" y="169.00" width="10.0" height="9.25" rx="1.50" fill="#10984f" stroke="#0a3d22" stroke-width="1.2"/>
<rect x="1125.93" y="160.50" width="1.6" height="15.50" fill="#231f20"/>
<rect x="1121.73" y="164.20" width="10.0" height="4.00" rx="1.50" fill="#10984f" stroke="#0a3d22" stroke-width="1.2"/>
<rect x="1143.86" y="145.00" width="1.6" height="20.30" fill="#231f20"/>
<rect x="1139.66" y="145.30" width="10.0" height="15.00" rx="1.50" fill="#10984f" stroke="#0a3d22" stroke-width="1.2"/>
<rect x="1161.79" y="133.00" width="1.6" height="17.50" fill="#231f20"/>
<rect x="1157.59" y="139.20" width="10.0" height="10.80" rx="1.50" fill="#ee2b2f" stroke="#7d1517" stroke-width="1.2"/>
<rect x="1179.72" y="131.50" width="1.6" height="14.00" fill="#231f20"/>
<rect x="1175.52" y="132.00" width="10.0" height="13.00" rx="1.50" fill="#10984f" stroke="#0a3d22" stroke-width="1.2"/>
<clipPath id="cn"><rect x="26" y="645" width="1125.8" height="38"/></clipPath>
<clipPath id="cs"><rect x="1151.8" y="645" width="16.5" height="38"/></clipPath>
<path d="M26,682 L26,680 L60,679 L66,676 L74,671 L80,667 L86,671 L94,676 L104,678.5 L140,679.5 L200,679.5 L280,679 L340,677 L367,672 L380,668 L388,665 L395,667 L410,667 L427,666 L433,660 L437,653 L441,650.5 L445,649.5 L449,651.5 L455,652.5 L461,651 L466,652.5 L475,653 L481,652 L486,650.5 L492,652 L497,656 L505,659 L513,661 L522,664 L535,667 L545,667 L553,669.5 L560,672 L572,673.5 L580,674 L590,671 L597,668.5 L605,669 L615,667 L622,665.5 L632,667 L650,667.5 L680,668 L700,668.5 L730,668.5 L760,667.5 L800,668 L840,666.5 L880,665 L920,664.5 L960,665 L1000,664 L1040,663.5 L1080,662 L1110,660.5 L1130,659 L1145,658 L1152,657.5 L1160,656 L1168,654.5 L1186,654.5 L1186,682 Z" fill="url(#nav)" clip-path="url(#cn)"/>
<path d="M26,682 L26,680 L60,679 L66,676 L74,671 L80,667 L86,671 L94,676 L104,678.5 L140,679.5 L200,679.5 L280,679 L340,677 L367,672 L380,668 L388,665 L395,667 L410,667 L427,666 L433,660 L437,653 L441,650.5 L445,649.5 L449,651.5 L455,652.5 L461,651 L466,652.5 L475,653 L481,652 L486,650.5 L492,652 L497,656 L505,659 L513,661 L522,664 L535,667 L545,667 L553,669.5 L560,672 L572,673.5 L580,674 L590,671 L597,668.5 L605,669 L615,667 L622,665.5 L632,667 L650,667.5 L680,668 L700,668.5 L730,668.5 L760,667.5 L800,668 L840,666.5 L880,665 L920,664.5 L960,665 L1000,664 L1040,663.5 L1080,662 L1110,660.5 L1130,659 L1145,658 L1152,657.5 L1160,656 L1168,654.5 L1186,654.5 L1186,682 Z" fill="url(#navsel)" clip-path="url(#cs)"/>
<path d="M26,680 L60,679 L66,676 L74,671 L80,667 L86,671 L94,676 L104,678.5 L140,679.5 L200,679.5 L280,679 L340,677 L367,672 L380,668 L388,665 L395,667 L410,667 L427,666 L433,660 L437,653 L441,650.5 L445,649.5 L449,651.5 L455,652.5 L461,651 L466,652.5 L475,653 L481,652 L486,650.5 L492,652 L497,656 L505,659 L513,661 L522,664 L535,667 L545,667 L553,669.5 L560,672 L572,673.5 L580,674 L590,671 L597,668.5 L605,669 L615,667 L622,665.5 L632,667 L650,667.5 L680,668 L700,668.5 L730,668.5 L760,667.5 L800,668 L840,666.5 L880,665 L920,664.5 L960,665 L1000,664 L1040,663.5 L1080,662 L1110,660.5 L1130,659 L1145,658 L1152,657.5 L1160,656 L1168,654.5 L1186,654.5" fill="none" stroke="#eaeff6" stroke-width="1" clip-path="url(#cn)"/>
<text x="236" y="677.6" font-size="10.3" letter-spacing="1.6" fill="#5f5f5f" textLength="38.5" lengthAdjust="spacingAndGlyphs">2004</text>
<text x="506" y="677.6" font-size="10.3" letter-spacing="1.6" fill="#5f5f5f" textLength="38.5" lengthAdjust="spacingAndGlyphs">2008</text>
<text x="774" y="677.6" font-size="10.3" letter-spacing="1.6" fill="#5f5f5f" textLength="38.5" lengthAdjust="spacingAndGlyphs">2012</text>
<text x="1042.5" y="677.6" font-size="10.3" letter-spacing="1.6" fill="#5f5f5f" textLength="38.5" lengthAdjust="spacingAndGlyphs">2016</text>
<rect x="26" y="682" width="1160" height="1" fill="#ececec"/>
<rect x="26" y="695.3" width="1160" height="1" fill="#ececec"/>
<path d="M26,644.8 L1151.8,644.8 L1151.8,682.5 M1168.3,682.5 L1168.3,644.8 L1186.3,644.8" fill="none" stroke="#858585" stroke-width="1.6"/>
<rect x="1151.8" y="682.4" width="16.5" height="13.2" rx="2" fill="url(#btn)" stroke="#8a8a8a" stroke-width="1.2"/>
<rect x="1155.00" y="687" width="1" height="4.6" fill="#8a8a8a"/>
<rect x="1159.00" y="687" width="1" height="4.6" fill="#8a8a8a"/>
<rect x="1163.00" y="687" width="1" height="4.6" fill="#8a8a8a"/>
<rect x="1168.3" y="682.4" width="17.9" height="13.2" rx="2" fill="url(#btn)" stroke="#8a8a8a" stroke-width="1.2"/>
<path d="M1176,687.2 L1179.8,689.5 L1176,691.8 Z" fill="#444"/>
<rect x="25.2" y="682.4" width="18.4" height="13.2" rx="2.5" fill="url(#btn)" stroke="#8a8a8a" stroke-width="1.3"/>
<path d="M36.2,686.8 L32.4,689.1 L36.2,691.4 Z" fill="#444"/>
<rect x="1147.3999999999999" y="656.3" width="8.8" height="14" rx="3" fill="#ffffff" stroke="#8a8a8a" stroke-width="1.2"/>
<rect x="1150.2" y="660" width="0.9" height="6.6" fill="#b0b0b0"/>
<rect x="1152.5" y="660" width="0.9" height="6.6" fill="#b0b0b0"/>
<rect x="1163.8999999999999" y="656.3" width="8.8" height="14" rx="3" fill="#ffffff" stroke="#8a8a8a" stroke-width="1.2"/>
<rect x="1166.7" y="660" width="0.9" height="6.6" fill="#b0b0b0"/>
<rect x="1169.0" y="660" width="0.9" height="6.6" fill="#b0b0b0"/>
</g>
</svg></body></html>
